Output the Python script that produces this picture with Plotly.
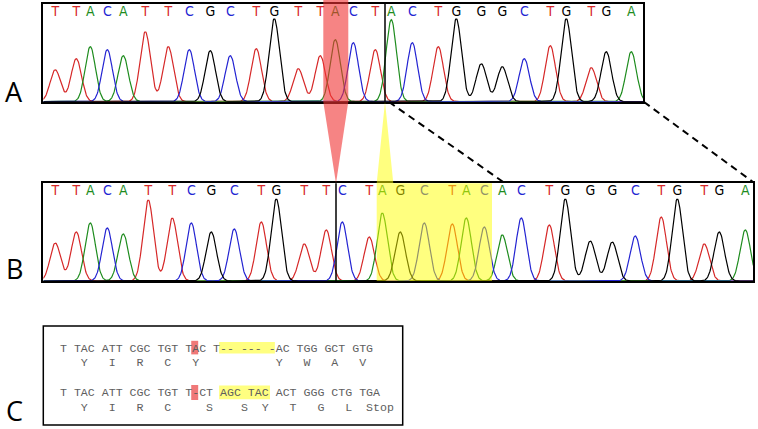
import numpy as np
import plotly.graph_objects as go

# ---------------- data ----------------
# Panel A (reference sequence) : called bases, peak scan positions, peak intensities
seq_a = list("TTACATTCGCTGTTACTACTGGGCTGTGA")
scan_a = [12, 33, 47, 64, 80, 102, 125, 146, 167, 187, 213, 231, 255, 277, 292,
          310, 332, 348, 369, 395, 413, 438, 459, 481, 507, 523, 548, 563, 588]
height_a = [32, 43, 55, 52, 46, 70, 55, 52, 51, 46, 53, 83, 33, 46, 62,
            59, 52, 82, 59, 55, 83, 38, 35, 43, 56, 83, 34, 50, 50]

# Panel B (mutant sequence)
seq_b = list("TTACATTCGCTGTTCTAGCTACACTGGGCTGTGA")
scan_b = [12, 33, 47, 64, 80, 105, 129, 148, 168, 191, 218, 233, 261, 283, 299,
          326, 339, 357, 381, 409, 423, 441, 459, 478, 506, 522, 547, 569, 592,
          618, 634, 661, 676, 702]
height_b = [38, 49, 58, 53, 47, 81, 63, 58, 49, 52, 59, 82, 37, 51, 59,
            44, 68, 49, 58, 57, 63, 54, 46, 63, 56, 82, 40, 39, 45,
            64, 82, 37, 49, 51]

# Panel C text rows
row1 = "T TAC ATT CGC TGT TAC T-- --- -AC TGG GCT GTG"
row2 = "   Y   I   R   C   Y           Y   W   A   V"
row3 = "T TAC ATT CGC TGT T-CT AGC TAC ACT GGG CTG TGA"
row4 = "   Y   I   R   C     S    S  Y   T   G   L  Stop"
panel_labels = ["A", "B", "C"]

# ---------------- styles ----------------
W, H = 758, 429
base_col = {"A": "#1e8c1e", "C": "#2424d2", "G": "#000000", "T": "#d62828"}
SIG = 5.2
letter_font = "DejaVu Sans Condensed, Liberation Sans Narrow, DejaVu Sans"

fig = go.Figure()


def add_chrom(seq, scans, heights, xmax, xa, ya):
    xs = np.arange(0, xmax + 0.5, 0.5)
    for b in "TACG":
        ys = np.zeros_like(xs)
        for s, p, h in zip(seq, scans, heights):
            if s == b:
                ys += h * np.exp(-(xs - p) ** 2 / (2 * SIG ** 2))
        fig.add_trace(go.Scatter(x=xs, y=ys, mode="lines", xaxis=xa, yaxis=ya,
                                 line=dict(color=base_col[b], width=1.2),
                                 hoverinfo="skip", showlegend=False))
    fig.add_trace(go.Scatter(x=scans, y=[89.5] * len(seq), text=seq, mode="text",
                             xaxis=xa, yaxis=ya, hoverinfo="skip", showlegend=False,
                             textfont=dict(family=letter_font, size=14,
                                           color=[base_col[s] for s in seq])))


add_chrom(seq_a, scan_a, height_a, 600, "x", "y")
add_chrom(seq_b, scan_b, height_b, 710, "x2", "y2")
fig.add_trace(go.Scatter(x=[], y=[], xaxis="x3", yaxis="y3", showlegend=False))

box_axis = dict(showline=True, mirror=True, linecolor="black", linewidth=2,
                showticklabels=False, showgrid=False, zeroline=False, ticks="")

fig.update_layout(
    width=W, height=H, margin=dict(l=0, r=0, t=0, b=0),
    paper_bgcolor="white", plot_bgcolor="rgba(0,0,0,0)",
    xaxis=dict(domain=[43.3 / W, 643.3 / W], range=[0, 600], anchor="y", **box_axis),
    yaxis=dict(domain=[(H - 101.7) / H, (H - 4) / H], range=[0, 97.7], anchor="x", **box_axis),
    xaxis2=dict(domain=[43.3 / W, 753.3 / W], range=[0, 710], anchor="y2", **box_axis),
    yaxis2=dict(domain=[(H - 281) / H, (H - 183.3) / H], range=[0, 97.7], anchor="x2", **box_axis),
    xaxis3=dict(domain=[0, 1], range=[0, W], anchor="y3", visible=False),
    yaxis3=dict(domain=[0, 1], range=[H, 0], anchor="x3", visible=False),
)

shapes = []
# boundary lines inside panels
shapes.append(dict(type="line", xref="x", yref="y domain", x0=341.7, x1=341.7, y0=0, y1=1,
                   line=dict(color="black", width=1.5)))
shapes.append(dict(type="line", xref="x2", yref="y2 domain", x0=292.7, x1=292.7, y0=0, y1=1,
                   line=dict(color="black", width=1.5)))
# red deletion highlight + pointer
shapes.append(dict(type="path", xref="x3", yref="y3", layer="above",
                   path="M323.3,0 L348.3,0 L348.3,101.7 L336,183.3 L323.3,101.7 Z",
                   fillcolor="rgba(240,50,50,0.6)", line=dict(width=0)))
# yellow insertion highlight + pointer
shapes.append(dict(type="path", xref="x3", yref="y3", layer="above",
                   path="M385,101.7 L376.7,183.3 L376.7,281 L492,281 L492,183.3 L393.3,183.3 Z",
                   fillcolor="rgba(255,255,0,0.5)", line=dict(width=0)))
# dashed connectors
for x0, y0, x1, y1 in [(389, 102, 504, 182.5), (644, 102, 753, 182)]:
    shapes.append(dict(type="line", xref="x3", yref="y3", x0=x0, y0=y0, x1=x1, y1=y1,
                       line=dict(color="black", width=2, dash="7px,5px")))
# panel C box
shapes.append(dict(type="rect", xref="x3", yref="y3", x0=43.3, x1=402.7, y0=326, y1=425,
                   line=dict(color="black", width=1.5)))
# panel C highlights
cw = 6.97
cx0 = 58.8
for idx0, idx1, y0, y1, col in [(19, 20, 340.8, 354.4, "#f07878"),
                                (23, 31, 342, 353.5, "#ffff80"),
                                (19, 20, 385, 400, "#f07878"),
                                (23, 30.3, 385.5, 399.2, "#ffff80")]:
    shapes.append(dict(type="rect", xref="x3", yref="y3", layer="below",
                       x0=cx0 + idx0 * cw, x1=cx0 + idx1 * cw, y0=y0, y1=y1,
                       fillcolor=col, line=dict(width=0)))
fig.update_layout(shapes=shapes)

ann = []
for txt, yy in zip([row1, row2, row3, row4], [348, 362.7, 392.3, 407.7]):
    ann.append(dict(xref="x3", yref="y3", x=cx0 - 1, y=yy, text=txt.replace(" ", "&nbsp;"),
                    xanchor="left", yanchor="middle", showarrow=False,
                    font=dict(family="Liberation Mono", size=11.6, color="#5e5e5e")))
for lab, yy in zip(panel_labels, [91, 268, 410]):
    ann.append(dict(xref="x3", yref="y3", x=14, y=yy, text=lab, xanchor="center",
                    yanchor="middle", showarrow=False,
                    font=dict(family="Open Sans", size=27, color="black")))
fig.update_layout(annotations=ann)

fig.write_html("out.html", config={"displayModeBar": False},
               post_script="document.body.style.margin='0';")
